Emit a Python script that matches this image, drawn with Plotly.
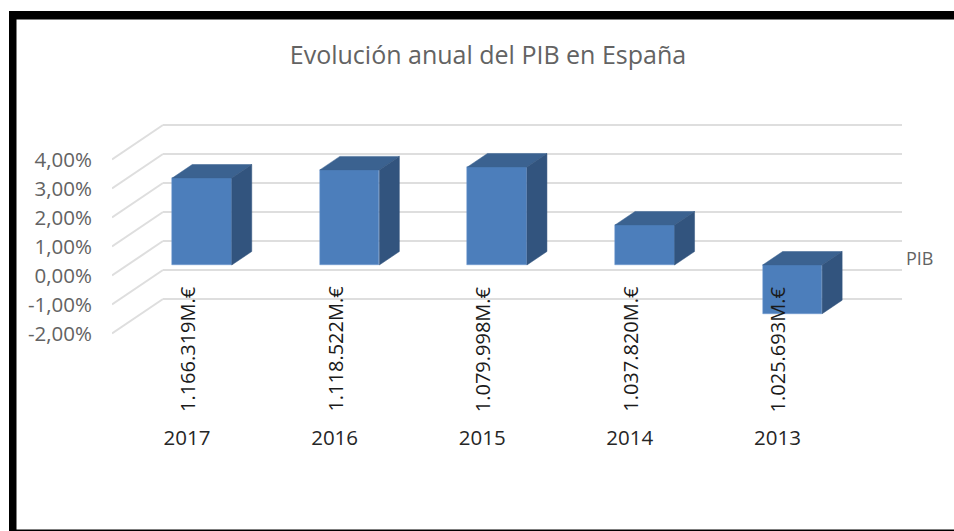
import plotly.graph_objects as go

# --- data ---
years = ["2017", "2016", "2015", "2014", "2013"]
pib_pct = [3.0, 3.28, 3.38, 1.38, -1.68]
gdp_labels = ["1.166.319M.€", "1.118.522M.€", "1.079.998M.€", "1.037.820M.€", "1.025.693M.€"]
y_ticks = [4, 3, 2, 1, 0, -1, -2]
y_ticktext = ["4,00%", "3,00%", "2,00%", "1,00%", "0,00%", "-1,00%", "-2,00%"]

# --- page geometry (pixels) ---
W, H = 954, 531
PL, PR, PT, PB = 112, 910, 110, 416
PX_CAT, PX_PCT = 147.6, 29.0
X0_PX, Y0_PX = 187.0, 275.5

xmin = (PL - X0_PX) / PX_CAT
xmax = (PR - X0_PX) / PX_CAT
ymax = (Y0_PX - PT) / PX_PCT
ymin = (Y0_PX - PB) / PX_PCT

# oblique projection, in axis units
WALL_DX, WALL_DY = 51 / PX_CAT, 34.5 / PX_PCT
BAR_SX, BAR_SY = 15 / PX_CAT, 10.5 / PX_PCT  # front face shift from the front plane
BAR_DX, BAR_DY = 20 / PX_CAT, 13.5 / PX_PCT  # depth of each bar
BAR_W = 59.5 / PX_CAT
grid_right = (902 - X0_PX) / PX_CAT

FRONT, TOP, SIDE = "#4C7EBB", "#3B6290", "#32547E"
GRID = "#DEDEDE"
GRAY = "#636363"
FONT = "Open Sans, Noto Sans, sans-serif"

fig = go.Figure()

# front faces
idx = list(range(len(years)))
fig.add_trace(go.Bar(
    x=[i + BAR_SX for i in idx], y=pib_pct, base=BAR_SY, width=BAR_W,
    marker=dict(color=FRONT, line=dict(color="#6F9AD0", width=0.5)),
    name="PIB", showlegend=False, hoverinfo="skip",
))

# top and side faces
for i, v in zip(idx, pib_pct):
    xl = i + BAR_SX - BAR_W / 2
    xr = i + BAR_SX + BAR_W / 2
    hi = max(v, 0) + BAR_SY
    lo = min(v, 0) + BAR_SY
    fig.add_trace(go.Scatter(
        x=[xl, xr, xr + BAR_DX, xl + BAR_DX, xl],
        y=[hi, hi, hi + BAR_DY, hi + BAR_DY, hi],
        mode="lines", fill="toself", fillcolor=TOP, line=dict(color=TOP, width=0.5),
        showlegend=False, hoverinfo="skip",
    ))
    fig.add_trace(go.Scatter(
        x=[xr, xr + BAR_DX, xr + BAR_DX, xr, xr],
        y=[hi, hi + BAR_DY, lo + BAR_DY, lo, hi],
        mode="lines", fill="toself", fillcolor=SIDE, line=dict(color=SIDE, width=0.5),
        showlegend=False, hoverinfo="skip",
    ))

shapes = []
# oblique gridlines, behind the bars
for t in y_ticks:
    shapes.append(dict(type="line", layer="below", xref="x", yref="y",
                       x0=xmin, y0=t, x1=xmin + WALL_DX, y1=t + WALL_DY,
                       line=dict(color=GRID, width=2)))
    shapes.append(dict(type="line", layer="below", xref="x", yref="y",
                       x0=xmin + WALL_DX, y0=t + WALL_DY, x1=grid_right, y1=t + WALL_DY,
                       line=dict(color=GRID, width=2)))


def paper_x(px):
    return (px - PL) / (PR - PL)


def paper_y(px):
    return (PB - px) / (PB - PT)


# black frame of the screenshot
for x0, y0, x1, y1 in [(9, 11, W, 19.5), (9, 11, 16.5, H), (9, 529.5, W, H)]:
    shapes.append(dict(type="rect", xref="paper", yref="paper", layer="above",
                       x0=paper_x(x0), x1=paper_x(x1), y0=paper_y(y0), y1=paper_y(y1),
                       fillcolor="#000000", line=dict(width=0)))

annotations = [
    dict(x=i, y=(Y0_PX - 284) / PX_PCT, xref="x", yref="y", text=t, textangle=-90,
         showarrow=False, xanchor="center", yanchor="top",
         font=dict(family=FONT, size=20, color="#1A1A1A"))
    for i, t in zip(idx, gdp_labels)
]
annotations.append(dict(x=paper_x(904), y=paper_y(258), xref="paper", yref="paper", text="PIB",
                        showarrow=False, xanchor="left", yanchor="middle",
                        font=dict(family=FONT, size=18, color=GRAY)))

fig.update_layout(
    width=W, height=H, autosize=False,
    margin=dict(l=PL, r=W - PR, t=PT, b=H - PB, pad=0),
    paper_bgcolor="white", plot_bgcolor="white",
    title=dict(text="Evolución anual del PIB en España", x=488 / W, xanchor="center",
               y=1 - 55 / H, yanchor="middle", font=dict(family=FONT, size=25, color=GRAY)),
    xaxis=dict(range=[xmin, xmax], tickmode="array", tickvals=idx, ticktext=years,
               showgrid=False, zeroline=False, showline=False,
               ticks="outside", ticklen=3, tickcolor="rgba(0,0,0,0)",
               tickfont=dict(family=FONT, size=20.5, color="#262626")),
    yaxis=dict(range=[ymin, ymax], tickmode="array", tickvals=y_ticks, ticktext=y_ticktext,
               showgrid=False, zeroline=False, showline=False,
               ticks="outside", ticklen=15, tickcolor="rgba(0,0,0,0)",
               tickfont=dict(family=FONT, size=20.5, color=GRAY)),
    shapes=shapes, annotations=annotations, showlegend=False, bargap=0,
)

fig.write_html("out.html", config={"displayModeBar": False},
               post_script="document.body.style.margin='0';document.documentElement.style.overflow='hidden';")
